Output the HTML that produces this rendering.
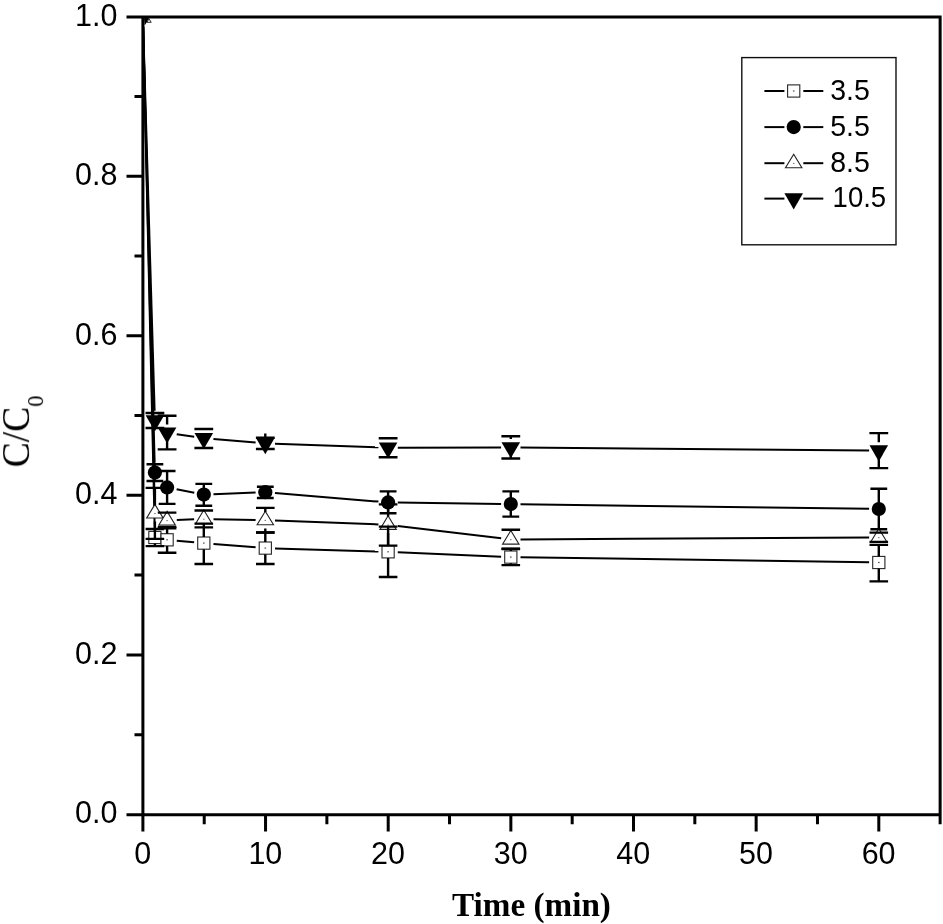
<!DOCTYPE html>
<html lang="en">
<head>
<meta charset="utf-8">
<title>C/C0 versus Time (min)</title>
<style>
html,body{margin:0;padding:0;background:#fff;}
body{width:943px;height:924px;overflow:hidden;}
svg{display:block;}
</style>
</head>
<body>
<svg width="943" height="924" viewBox="0 0 943 924">
<defs><filter id="soft" x="0" y="0" width="943" height="924" filterUnits="userSpaceOnUse"><feGaussianBlur stdDeviation="0.38"/></filter></defs>
<rect width="943" height="924" fill="#fff"/>
<g filter="url(#soft)">
<g id="s35"><g stroke="#000" stroke-width="2" stroke-linecap="butt">
<line x1="143.12" y1="26.5" x2="154.68" y2="527.8"/>
<line x1="176.76" y1="540.67" x2="194.14" y2="542.23"/>
<line x1="213.47" y1="543.89" x2="255.63" y2="547.31"/>
<line x1="275" y1="548.39" x2="378.4" y2="551.51"/>
<line x1="397.79" y1="552.22" x2="501.11" y2="556.68"/>
<line x1="520.5" y1="557.24" x2="869.1" y2="562.36"/>
</g>
<rect x="148.8" y="531.4" width="12.2" height="12.2" fill="#fff" stroke="#262626" stroke-width="1.1"/><rect x="154.1" y="536.9" width="1.6" height="1.2" fill="#555"/>
<rect x="161" y="533.7" width="12.2" height="12.2" fill="#fff" stroke="#262626" stroke-width="1.1"/><rect x="166.3" y="539.2" width="1.6" height="1.2" fill="#555"/>
<rect x="197.7" y="537" width="12.2" height="12.2" fill="#fff" stroke="#262626" stroke-width="1.1"/><rect x="203" y="542.5" width="1.6" height="1.2" fill="#555"/>
<rect x="259.2" y="542" width="12.2" height="12.2" fill="#fff" stroke="#262626" stroke-width="1.1"/><rect x="264.5" y="547.5" width="1.6" height="1.2" fill="#555"/>
<rect x="382" y="545.7" width="12.2" height="12.2" fill="#fff" stroke="#262626" stroke-width="1.1"/><rect x="387.3" y="551.2" width="1.6" height="1.2" fill="#555"/>
<rect x="504.7" y="551" width="12.2" height="12.2" fill="#fff" stroke="#262626" stroke-width="1.1"/><rect x="510" y="556.5" width="1.6" height="1.2" fill="#555"/>
<rect x="872.7" y="556.4" width="12.2" height="12.2" fill="#fff" stroke="#262626" stroke-width="1.1"/><rect x="878" y="561.9" width="1.6" height="1.2" fill="#555"/></g>
<g id="s55"><g stroke="#000" stroke-width="2" stroke-linecap="butt">
<line x1="143.16" y1="26.5" x2="154.64" y2="462.8"/>
<line x1="176.62" y1="489.27" x2="194.28" y2="492.73"/>
<line x1="213.49" y1="494.22" x2="255.61" y2="492.58"/>
<line x1="274.97" y1="493" x2="378.43" y2="501.6"/>
<line x1="397.8" y1="502.53" x2="501.1" y2="503.97"/>
<line x1="520.5" y1="504.23" x2="869.1" y2="508.87"/>
</g>
<circle cx="154.9" cy="472.5" r="7.1" fill="#000"/>
<circle cx="167.1" cy="487.4" r="7.1" fill="#000"/>
<circle cx="203.8" cy="494.6" r="7.1" fill="#000"/>
<circle cx="265.3" cy="492.2" r="7.1" fill="#000"/>
<circle cx="388.1" cy="502.4" r="7.1" fill="#000"/>
<circle cx="510.8" cy="504.1" r="7.1" fill="#000"/>
<circle cx="878.8" cy="509" r="7.1" fill="#000"/></g>
<g id="s85"><g stroke="#000" stroke-width="2" stroke-linecap="butt">
<line x1="143.13" y1="26.5" x2="154.67" y2="503.7"/>
<line x1="176.79" y1="520.03" x2="194.11" y2="519.37"/>
<line x1="213.5" y1="519.19" x2="255.6" y2="520.01"/>
<line x1="274.99" y1="520.56" x2="378.41" y2="524.44"/>
<line x1="397.73" y1="525.95" x2="501.17" y2="538.35"/>
<line x1="520.5" y1="539.45" x2="869.1" y2="537.55"/>
</g>
<path d="M154.9 504.4L163.1 518L146.7 518Z" fill="#fff" stroke="#222" stroke-width="1.1" stroke-linejoin="miter"/><rect x="154.2" y="513.1" width="1.4" height="1" fill="#666"/>
<path d="M167.1 511.4L175.3 525L158.9 525Z" fill="#fff" stroke="#222" stroke-width="1.1" stroke-linejoin="miter"/><rect x="166.4" y="520.1" width="1.4" height="1" fill="#666"/>
<path d="M203.8 510L212 523.6L195.6 523.6Z" fill="#fff" stroke="#222" stroke-width="1.1" stroke-linejoin="miter"/><rect x="203.1" y="518.7" width="1.4" height="1" fill="#666"/>
<path d="M265.3 511.2L273.5 524.8L257.1 524.8Z" fill="#fff" stroke="#222" stroke-width="1.1" stroke-linejoin="miter"/><rect x="264.6" y="519.9" width="1.4" height="1" fill="#666"/>
<path d="M388.1 515.8L396.3 529.4L379.9 529.4Z" fill="#fff" stroke="#222" stroke-width="1.1" stroke-linejoin="miter"/><rect x="387.4" y="524.5" width="1.4" height="1" fill="#666"/>
<path d="M510.8 530.5L519 544.1L502.6 544.1Z" fill="#fff" stroke="#222" stroke-width="1.1" stroke-linejoin="miter"/><rect x="510.1" y="539.2" width="1.4" height="1" fill="#666"/>
<path d="M878.8 528.5L887 542.1L870.6 542.1Z" fill="#fff" stroke="#222" stroke-width="1.1" stroke-linejoin="miter"/><rect x="878.1" y="537.2" width="1.4" height="1" fill="#666"/></g>
<g id="s105"><g stroke="#000" stroke-width="2" stroke-linecap="butt">
<line x1="143.19" y1="26.5" x2="154.61" y2="410.8"/>
<line x1="176.7" y1="434.21" x2="194.2" y2="436.79"/>
<line x1="213.47" y1="439.02" x2="255.63" y2="442.58"/>
<line x1="274.99" y1="443.74" x2="378.41" y2="447.36"/>
<line x1="397.8" y1="447.68" x2="501.1" y2="447.52"/>
<line x1="520.5" y1="447.58" x2="869.1" y2="450.52"/>
</g>
<path d="M145.6 415.2L164.2 415.2L154.9 431.3Z" fill="#000"/>
<path d="M157.8 427.5L176.4 427.5L167.1 443.6Z" fill="#000"/>
<path d="M194.5 432.9L213.1 432.9L203.8 449Z" fill="#000"/>
<path d="M256 438.1L274.6 438.1L265.3 454.2Z" fill="#000"/>
<path d="M378.8 442.4L397.4 442.4L388.1 458.5Z" fill="#000"/>
<path d="M501.5 442.2L520.1 442.2L510.8 458.3Z" fill="#000"/>
<path d="M869.5 445.3L888.1 445.3L878.8 461.4Z" fill="#000"/></g>
<g id="err"><path d="M154.9 529V531.4M154.9 543.6V546.1M145.6 529H164.2M145.6 546.1H164.2M167.1 526.9V533.7M167.1 545.9V552.7M157.8 526.9H176.4M157.8 552.7H176.4M203.8 523.6V537M203.8 549.2V564M194.5 523.6H213.1M194.5 564H213.1M265.3 532.5V542M265.3 554.2V564M256 532.5H274.6M256 564H274.6M388.1 526.6V545.7M388.1 557.9V577M378.8 526.6H397.4M378.8 577H397.4M510.8 548.8V551M510.8 563.2V565.1M501.5 548.8H520.1M501.5 565.1H520.1M878.8 544.9V556.4M878.8 568.6V581.4M869.5 544.9H888.1M869.5 581.4H888.1" fill="none" stroke="#000" stroke-width="2.4"/><path d="M154.9 464.3V481M146.5 464.3H163.3M146.5 481H163.3M167.1 471V503.9M158.7 471H175.5M158.7 503.9H175.5M203.8 483.9V505.8M195.4 483.9H212.2M195.4 505.8H212.2M265.3 486.7V498M256.9 486.7H273.7M256.9 498H273.7M388.1 491.4V513.3M379.7 491.4H396.5M379.7 513.3H396.5M510.8 491.4V516.6M502.4 491.4H519.2M502.4 516.6H519.2M878.8 488.8V529.3M870.4 488.8H887.2M870.4 529.3H887.2" fill="none" stroke="#000" stroke-width="2.4"/><path d="M154.9 487.9V505.2M154.9 521.6V538.9M145.6 487.9H164.2M145.6 538.9H164.2M157.8 512.6H176.4M157.8 528.2H176.4M203.8 510.5V510.8M203.8 527.2V527.4M194.5 510.5H213.1M194.5 527.4H213.1M265.3 507.9V512M265.3 528.4V532.5M256 507.9H274.6M256 532.5H274.6M388.1 504.4V516.6M388.1 533V545.6M378.8 504.4H397.4M378.8 545.6H397.4M510.8 529.8V531.3M510.8 547.7V549M501.5 529.8H520.1M501.5 549H520.1M869.5 532.6H888.1M869.5 541.9H888.1" fill="none" stroke="#000" stroke-width="2.4"/><path d="M145.5 413H164.3M145.5 428H164.3M167.1 415.7V424.4M167.1 441.2V449.4M157.7 415.7H176.5M157.7 449.4H176.5M203.8 429V429.8M203.8 446.6V448M194.4 429H213.2M194.4 448H213.2M255.9 437.8H274.7M255.9 449H274.7M388.1 438.2V439.3M388.1 456.1V457.3M378.7 438.2H397.5M378.7 457.3H397.5M510.8 436.3V439.1M510.8 455.9V458.5M501.4 436.3H520.2M501.4 458.5H520.2M878.8 433.1V442.2M878.8 459V468.1M869.4 433.1H888.2M869.4 468.1H888.2M265.3 433.4V438" fill="none" stroke="#000" stroke-width="2.4"/></g>
<path d="M144 18L149 18L146.6 22.4L144.6 25.5Z" fill="#000"/><path d="M146.9 22.3L149 18.8L151.2 22.3Z" fill="#fff" stroke="#111" stroke-width="0.9"/>
<path d="M126.5 17.05H940.12M126.5 814.85H941.62M142.9 15.55V831.45M940.12 15.55V824.25M134.5 734.64H142.9M126.5 654.88H142.9M134.5 575.12H142.9M126.5 495.36H142.9M134.5 415.6H142.9M126.5 335.84H142.9M134.5 256.08H142.9M126.5 176.32H142.9M134.5 96.56H142.9M204.23 814.85V824.25M265.55 814.85V831.45M326.88 814.85V824.25M388.2 814.85V831.45M449.52 814.85V824.25M510.85 814.85V831.45M572.18 814.85V824.25M633.5 814.85V831.45M694.83 814.85V824.25M756.15 814.85V831.45M817.48 814.85V824.25M878.8 814.85V831.45" fill="none" stroke="#000" stroke-width="3"/>
<g font-family="'Liberation Sans', Arial, sans-serif" font-size="30.5" fill="#000">
<text transform="translate(117.5 823.3) scale(1 1.045)" text-anchor="end">0.0</text>
<text transform="translate(117.5 663.78) scale(1 1.045)" text-anchor="end">0.2</text>
<text transform="translate(117.5 504.26) scale(1 1.045)" text-anchor="end">0.4</text>
<text transform="translate(117.5 344.74) scale(1 1.045)" text-anchor="end">0.6</text>
<text transform="translate(117.5 185.22) scale(1 1.045)" text-anchor="end">0.8</text>
<text transform="translate(117.5 25.7) scale(1 1.045)" text-anchor="end">1.0</text>
<text transform="translate(142.7 864.4) scale(1 1.045)" text-anchor="middle">0</text>
<text transform="translate(265.35 864.4) scale(1 1.045)" text-anchor="middle">10</text>
<text transform="translate(388 864.4) scale(1 1.045)" text-anchor="middle">20</text>
<text transform="translate(510.65 864.4) scale(1 1.045)" text-anchor="middle">30</text>
<text transform="translate(633.3 864.4) scale(1 1.045)" text-anchor="middle">40</text>
<text transform="translate(755.95 864.4) scale(1 1.045)" text-anchor="middle">50</text>
<text transform="translate(878.6 864.4) scale(1 1.045)" text-anchor="middle">60</text>
</g>
<text x="531.5" y="916.1" text-anchor="middle" font-family="'Liberation Serif', 'Times New Roman', serif" font-weight="bold" font-size="33.2" fill="#000">Time (min)</text>
<text transform="translate(28.6 467.3) rotate(-90) scale(1 1.045)" font-family="'Liberation Serif', 'Times New Roman', serif" font-size="37.6" fill="#000">C/C<tspan font-size="22.5" dy="13.8">0</tspan></text>
<rect x="741.8" y="57.6" width="154.2" height="187.2" fill="#fff" stroke="#111" stroke-width="1.4"/>
<g stroke="#000" stroke-width="2">
<line x1="764.4" y1="91" x2="784.4" y2="91"/><line x1="803.3" y1="91" x2="823.3" y2="91"/>
<line x1="764.4" y1="127.1" x2="784.4" y2="127.1"/><line x1="803.3" y1="127.1" x2="823.3" y2="127.1"/>
<line x1="764.4" y1="163.2" x2="784.4" y2="163.2"/><line x1="803.3" y1="163.2" x2="823.3" y2="163.2"/>
<line x1="764.4" y1="198.6" x2="784.4" y2="198.6"/><line x1="803.3" y1="198.6" x2="823.3" y2="198.6"/>
</g>
<rect x="787.6" y="84.9" width="12.2" height="12.2" fill="#fff" stroke="#262626" stroke-width="1.1"/><rect x="792.9" y="90.4" width="1.6" height="1.2" fill="#555"/>
<circle cx="793.7" cy="127.1" r="7.1" fill="#000"/>
<path d="M793.7 154.2L801.9 167.8L785.5 167.8Z" fill="#fff" stroke="#222" stroke-width="1.1" stroke-linejoin="miter"/><rect x="793" y="162.9" width="1.4" height="1" fill="#666"/>
<path d="M784.4 193.3L803 193.3L793.7 209.4Z" fill="#000"/>
<g font-family="'Liberation Sans', Arial, sans-serif" font-size="28.5" fill="#000">
<text transform="translate(830.2 99.5) scale(1 1.045)">3.5</text>
<text transform="translate(830.2 135.6) scale(1 1.045)">5.5</text>
<text transform="translate(830.2 171.7) scale(1 1.045)">8.5</text>
<text transform="translate(832.6 207.1) scale(0.965 1.045)">10.5</text>
</g>
</g>
</svg>
</body>
</html>
